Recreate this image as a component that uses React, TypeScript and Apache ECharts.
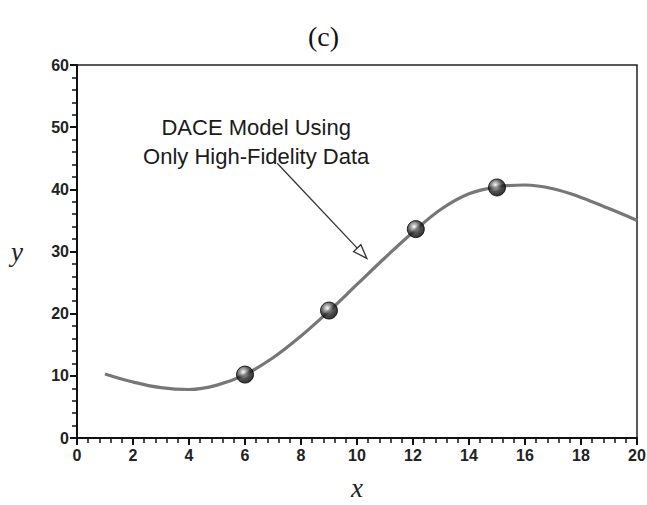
import React, { useEffect, useRef } from "react";
import * as echarts from "echarts";

const curveX = [1, 2, 3, 4, 5, 6, 7, 8, 9, 10, 11, 12, 13, 14, 15, 16, 17, 18, 19, 20];
const curveY = [10.3, 9.0, 8.1, 7.8, 8.5, 10.2, 12.9, 16.4, 20.4, 24.7, 29.0, 33.1, 36.8, 39.3, 40.4, 40.7, 40.1, 38.7, 36.9, 35.0];
const sampleX = [6, 9, 12.1, 15];
const sampleY = [10.2, 20.5, 33.6, 40.3];
const annotationLines = ["DACE Model Using", "Only High-Fidelity Data"];
const annotationAnchor = [6.4, 47.6];
const arrowFrom = [7.15, 44.2];
const arrowTo = [10.35, 28.9];

export default function App() {
  const ref = useRef<HTMLDivElement>(null);
  useEffect(() => {
    if (!ref.current) return;
    const chart = echarts.init(ref.current, null, { renderer: "svg" });
    const tickFont = { fontFamily: "Liberation Sans, Arial", fontSize: 16, fontWeight: "bold", color: "#222" };
    const nameFont = { fontFamily: "Liberation Serif, Times New Roman, serif", fontStyle: "italic", fontSize: 27, lineHeight: 24, color: "#222" };
    chart.setOption({
      animation: false,
      backgroundColor: "#fff",
      title: {
        text: "(c)",
        left: "center",
        top: 17,
        textStyle: { fontFamily: "Liberation Serif, Times New Roman, serif", fontSize: 28, fontWeight: "normal", color: "#111" },
      },
      grid: {
        left: 77,
        right: 10,
        top: 65,
        bottom: 67,
        containLabel: false,
        outerBoundsMode: "none",
        show: true,
        borderColor: "#222",
        borderWidth: 1.5,
        backgroundColor: "transparent",
      },
      xAxis: {
        type: "value",
        min: 0,
        max: 20,
        interval: 2,
        name: "x",
        nameLocation: "middle",
        nameGap: 38,
        nameTextStyle: nameFont,
        axisLine: { show: true, lineStyle: { color: "#111", width: 2 } },
        axisTick: { show: true, inside: false, length: 7, lineStyle: { color: "#111", width: 2 } },
        minorTick: { show: true, splitNumber: 5, length: 5, lineStyle: { color: "#111", width: 1.5 } },
        axisLabel: { ...tickFont, margin: 9 },
        splitLine: { show: false },
      },
      yAxis: {
        type: "value",
        min: 0,
        max: 60,
        interval: 10,
        name: "y",
        nameLocation: "middle",
        nameGap: 54,
        nameRotate: 0,
        nameTextStyle: nameFont,
        axisLine: { show: true, lineStyle: { color: "#111", width: 2 } },
        axisTick: { show: true, inside: false, length: 7, lineStyle: { color: "#111", width: 2 } },
        minorTick: { show: true, splitNumber: 5, length: 5, lineStyle: { color: "#111", width: 1.5 } },
        axisLabel: { ...tickFont, margin: 8 },
        splitLine: { show: false },
      },
      series: [
        {
          type: "line",
          data: curveX.map((x, i) => [x, curveY[i]]),
          smooth: 0.4,
          showSymbol: false,
          lineStyle: { color: "#777", width: 3.2 },
          z: 2,
        },
        {
          type: "scatter",
          data: sampleX.map((x, i) => [x, sampleY[i]]),
          symbol: "circle",
          symbolSize: 17,
          itemStyle: {
            color: {
              type: "radial",
              x: 0.4,
              y: 0.35,
              r: 0.65,
              colorStops: [
                { offset: 0, color: "#ffffff" },
                { offset: 0.25, color: "#9a9a9a" },
                { offset: 0.6, color: "#262626" },
                { offset: 1, color: "#000000" },
              ],
            },
            borderColor: "#000",
            borderWidth: 1,
          },
          z: 3,
        },
      ],
    });

    const [tx, ty] = chart.convertToPixel({ gridIndex: 0 }, annotationAnchor) as number[];
    const [ax1, ay1] = chart.convertToPixel({ gridIndex: 0 }, arrowFrom) as number[];
    const [ax2, ay2] = chart.convertToPixel({ gridIndex: 0 }, arrowTo) as number[];
    const ang = Math.atan2(ay2 - ay1, ax2 - ax1);
    const hl = 14;
    const hw = 5;
    const bx = ax2 - hl * Math.cos(ang);
    const by = ay2 - hl * Math.sin(ang);
    const px = -Math.sin(ang);
    const py = Math.cos(ang);
    chart.setOption({
      graphic: [
        {
          type: "text",
          x: tx,
          y: ty,
          style: {
            text: annotationLines.join("\n"),
            align: "center",
            verticalAlign: "middle",
            fontFamily: "Liberation Sans, Arial, sans-serif",
            fontSize: 22,
            lineHeight: 29,
            fill: "#1a1a1a",
          },
        },
        {
          type: "line",
          shape: { x1: ax1, y1: ay1, x2: bx, y2: by },
          style: { stroke: "#333", lineWidth: 1.3 },
        },
        {
          type: "polygon",
          shape: {
            points: [
              [ax2, ay2],
              [bx + px * hw, by + py * hw],
              [bx - px * hw, by - py * hw],
            ],
          },
          style: { fill: "#fff", stroke: "#333", lineWidth: 1.3 },
        },
      ],
    });
    return () => chart.dispose();
  }, []);
  return <div ref={ref} style={{ width: 647, height: 505, position: "absolute", left: 0, top: 0 }} />;
}
